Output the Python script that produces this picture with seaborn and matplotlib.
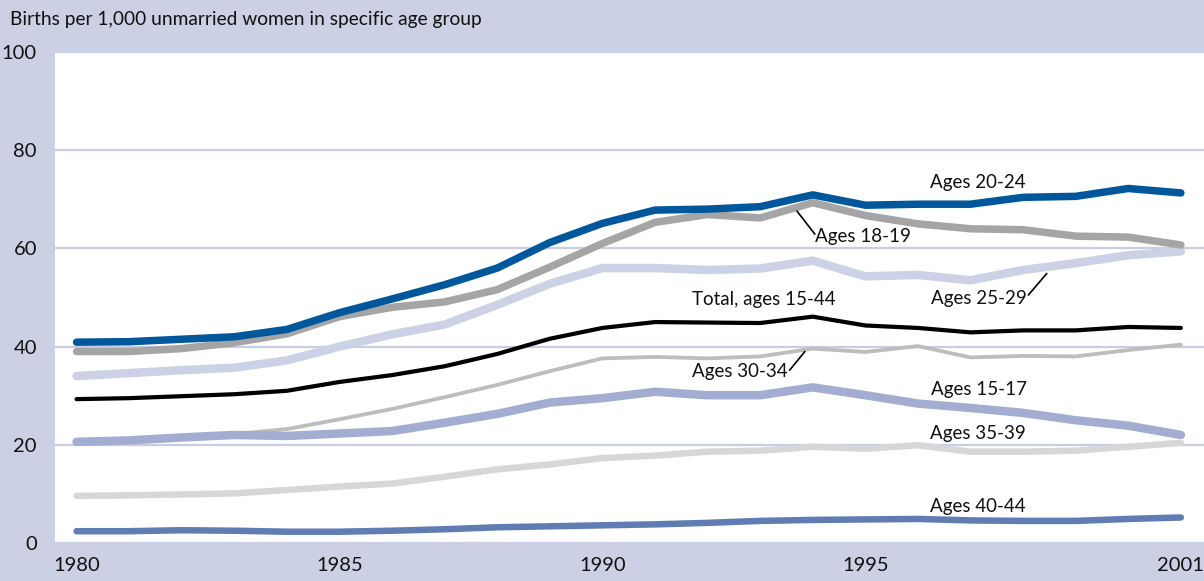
import matplotlib
matplotlib.use("Agg")
import matplotlib.pyplot as plt
import pandas as pd
import seaborn as sns

# -------- DATA --------
years = list(range(1980, 2002))

ages_20_24 = [40.9, 41.0, 41.5, 42.0, 43.5, 46.9, 49.7, 52.6, 56.0, 61.2, 65.1,
              67.8, 68.0, 68.5, 70.9, 68.8, 69.0, 69.0, 70.4, 70.6, 72.2, 71.3]
ages_18_19 = [39.0, 39.0, 39.6, 40.8, 42.6, 46.1, 48.0, 49.1, 51.6, 56.2, 61.0,
              65.3, 66.9, 66.2, 69.3, 66.7, 65.0, 64.0, 63.8, 62.5, 62.3, 60.7]
ages_25_29 = [34.0, 34.6, 35.2, 35.7, 37.2, 40.0, 42.5, 44.5, 48.5, 52.8, 56.0,
              56.0, 55.6, 55.9, 57.5, 54.3, 54.6, 53.5, 55.6, 57.0, 58.6, 59.4]
total_15_44 = [29.3, 29.5, 29.9, 30.3, 31.0, 32.8, 34.2, 36.0, 38.5, 41.6, 43.8,
               45.0, 44.9, 44.8, 46.1, 44.3, 43.8, 42.9, 43.3, 43.3, 44.0, 43.8]
ages_30_34 = [20.6, 20.9, 21.6, 22.2, 23.2, 25.2, 27.3, 29.7, 32.2, 35.0, 37.6,
              37.9, 37.6, 38.0, 39.6, 38.9, 40.1, 37.8, 38.1, 38.0, 39.3, 40.4]
ages_15_17 = [20.6, 20.9, 21.5, 22.0, 21.8, 22.3, 22.8, 24.5, 26.3, 28.6, 29.5,
              30.8, 30.1, 30.1, 31.7, 30.1, 28.4, 27.5, 26.5, 25.0, 23.9, 22.0]
ages_35_39 = [9.6, 9.7, 9.9, 10.1, 10.8, 11.5, 12.1, 13.5, 15.0, 16.0, 17.3,
              17.8, 18.6, 18.8, 19.6, 19.2, 19.9, 18.6, 18.6, 18.8, 19.6, 20.4]
ages_40_44 = [2.4, 2.4, 2.6, 2.5, 2.3, 2.3, 2.5, 2.8, 3.2, 3.4, 3.6,
              3.8, 4.1, 4.5, 4.7, 4.8, 4.9, 4.6, 4.5, 4.5, 4.9, 5.2]

tick_years = [1980, 1985, 1990, 1995, 2001]
y_ticks = [0, 20, 40, 60, 80, 100]
title = "Births per 1,000 unmarried women in specific age group"
# ----------------------

BG = "#CCD0E4"
GRID = "#C9CDE3"

# series drawn bottom to top: (name, values, colour, width in px)
series = [
    ("Ages 25-29", ages_25_29, "#CDD1E6", 8.5),
    ("Ages 30-34", ages_30_34, "#BDBDBD", 3.8),
    ("Ages 35-39", ages_35_39, "#D7D7D7", 6.5),
    ("Ages 15-17", ages_15_17, "#A3ADD1", 8.5),
    ("Ages 40-44", ages_40_44, "#607DB3", 6.5),
    ("Total, ages 15-44", total_15_44, "#000000", 4.2),
    ("Ages 18-19", ages_18_19, "#A5A5A5", 7.5),
    ("Ages 20-24", ages_20_24, "#00579B", 7.5),
]

sns.set_style("white")
plt.rcParams["font.family"] = ["Lato", "DejaVu Sans"]

fig = plt.figure(figsize=(12.04, 5.81), dpi=100, facecolor=BG)
ax = fig.add_axes([55 / 1204, 38 / 581, 1 - 55 / 1204, (543 - 52) / 581])
ax.set_facecolor("white")

for z, (name, vals, col, px) in enumerate(series):
    df = pd.DataFrame({"year": years, "rate": vals})
    sns.lineplot(data=df, x="year", y="rate", ax=ax, color=col,
                 linewidth=px * 0.72, solid_capstyle="round",
                 solid_joinstyle="round", zorder=3 + z)

ax.set_xlim(1979.59, 2001.44)
ax.set_ylim(0, 100)
for s in ax.spines.values():
    s.set_visible(False)

ax.set_yticks(y_ticks)
ax.set_yticklabels([str(v) for v in y_ticks], fontsize=14.5, color="#111111")
ax.yaxis.grid(True, color=GRID, linewidth=1.6)
ax.tick_params(axis="y", length=5, width=1.6, color=GRID, pad=8)

ax.set_xticks(years)
ax.set_xticklabels([str(y) if y in tick_years else "" for y in years],
                   fontsize=14.5, color="#111111")
ax.tick_params(axis="x", direction="in", length=8, width=1.6, color=GRID, pad=10)
ax.set_xlabel("")
ax.set_ylabel("")
ax.set_axisbelow(True)

fig.text(10 / 1204, 1 - 20 / 581, title, fontsize=13.8, ha="left", va="center",
         color="#111111")

# series labels
lab = dict(fontsize=13.5, color="#111111", ha="left", va="center", zorder=20)
ax.text(1996.23, 73.4, "Ages 20-24", **lab)
ax.text(1994.04, 62.4, "Ages 18-19", **lab)
ax.text(1996.25, 49.8, "Ages 25-29", **lab)
ax.text(1991.70, 49.5, "Total, ages 15-44", **lab)
ax.text(1991.71, 34.9, "Ages 30-34", **lab)
ax.text(1996.25, 31.2, "Ages 15-17", **lab)
ax.text(1996.23, 22.3, "Ages 35-39", **lab)
ax.text(1996.23, 7.4, "Ages 40-44", **lab)

# leader lines
ax.plot([1993.70, 1994.04], [67.6, 62.9], color="black", lw=1.2, zorder=20)
ax.plot([1998.10, 1998.45], [50.5, 54.9], color="black", lw=1.2, zorder=20)
ax.plot([1993.56, 1993.85], [35.2, 39.0], color="black", lw=1.2, zorder=20)

fig.savefig("out.png", dpi=100, facecolor=BG)
